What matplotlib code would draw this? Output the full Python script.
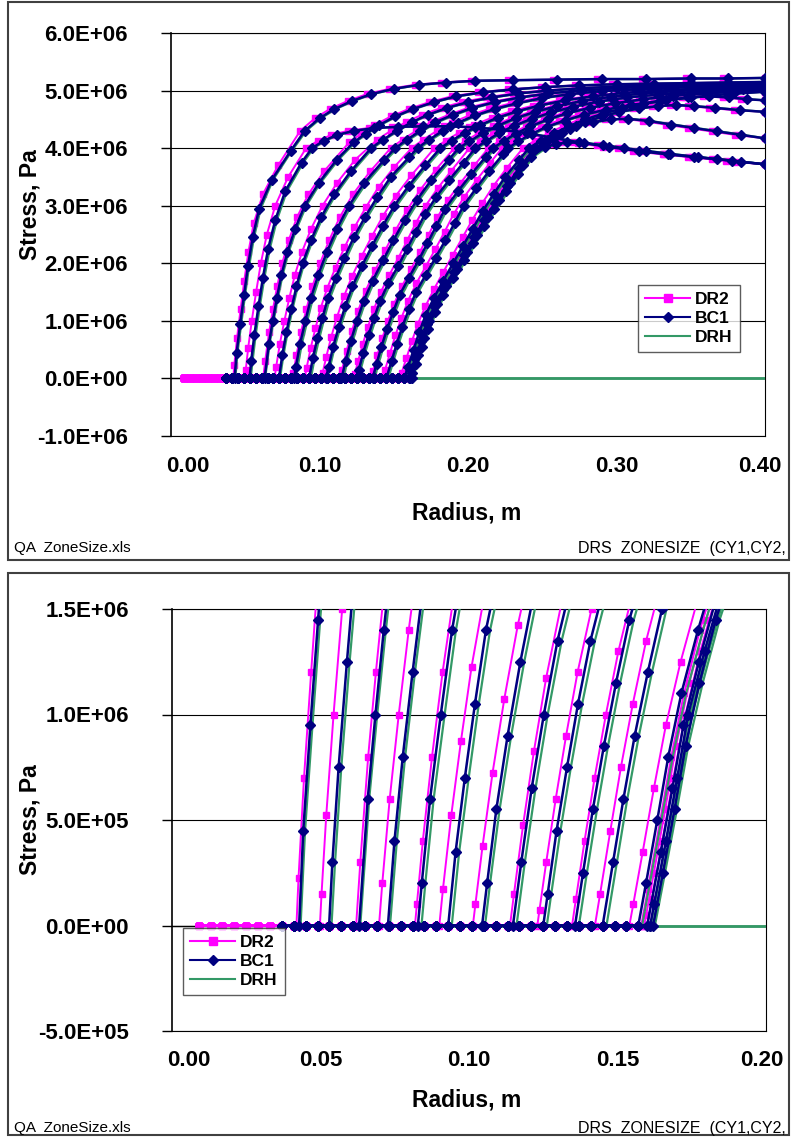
import matplotlib
matplotlib.use('Agg')
import matplotlib.pyplot as plt
from matplotlib.ticker import FuncFormatter, MultipleLocator
from matplotlib.patches import Rectangle
from matplotlib.lines import Line2D
from matplotlib.transforms import blended_transform_factory, offset_copy

plt.rcParams['font.family'] = ['Liberation Sans', 'DejaVu Sans']

W, H = 791, 1137

# zero-stress mesh nodes behind the front
ZERO_R_DR2 = [0.009, 0.013, 0.017, 0.021, 0.025, 0.029, 0.033, 0.037, 0.041, 0.045,
              0.049, 0.053, 0.057, 0.061, 0.065, 0.069, 0.073, 0.077, 0.081, 0.085,
              0.089, 0.093, 0.097, 0.101, 0.105, 0.109, 0.113, 0.117, 0.121, 0.125,
              0.129, 0.133, 0.137, 0.141, 0.145, 0.149, 0.153, 0.157]
ZERO_R_BC1 = [0.037, 0.041, 0.045, 0.049, 0.053, 0.057, 0.061, 0.065, 0.069, 0.073,
              0.077, 0.081, 0.085, 0.089, 0.093, 0.097, 0.101, 0.105, 0.109, 0.113,
              0.117, 0.121, 0.125, 0.129, 0.133, 0.137, 0.141, 0.145, 0.149, 0.153,
              0.157, 0.161]
ZERO_R_DRH = [0.040]
DRH_FLAT_R = [0.040, 0.400]

# stress (MPa) at the BC1 / DRH nodes of each profile, from the front outward
PROFILE_S = [
    [0, 0.45, 0.95, 1.45, 1.95, 2.45, 2.95, 3.45, 3.95, 4.3, 4.52, 4.68, 4.82, 4.94,
     5.03, 5.1, 5.14, 5.17, 5.18, 5.19, 5.2, 5.2, 5.21, 5.21, 5.22],
    [0, 0.3, 0.75, 1.25, 1.75, 2.25, 2.75, 3.25, 3.75, 4.0, 4.13, 4.23, 4.3, 4.35, 4.37,
     4.38, 4.38, 4.36, 4.32, 4.26, 4.18, 4.1, 4.02, 3.95, 3.89, 3.84, 3.78, 3.72],
    [0, 0.6, 1.0, 1.4, 1.8, 2.2, 2.6, 3.0, 3.4, 3.8, 4.1, 4.25, 4.4, 4.55, 4.68, 4.8,
     4.9, 4.97, 5.02, 5.06, 5.09, 5.11, 5.12, 5.13, 5.14, 5.15],
    [0, 0.4, 0.8, 1.2, 1.6, 2.0, 2.4, 2.8, 3.2, 3.6, 4.0, 4.15, 4.3, 4.45, 4.58, 4.7,
     4.8, 4.88, 4.95, 5.0, 5.04, 5.07, 5.09, 5.1, 5.11, 5.12],
    [0, 0.2, 0.6, 1.0, 1.4, 1.8, 2.2, 2.6, 3.0, 3.4, 3.8, 4.0, 4.15, 4.3, 4.45, 4.58,
     4.7, 4.8, 4.88, 4.95, 5.0, 5.04, 5.07, 5.08, 5.09, 5.1],
    [0, 0.35, 0.7, 1.05, 1.4, 1.75, 2.1, 2.45, 2.8, 3.15, 3.5, 3.85, 4.0, 4.15, 4.3,
     4.44, 4.57, 4.68, 4.78, 4.87, 4.94, 4.99, 5.02, 5.05, 5.07, 5.08],
    [0, 0.2, 0.55, 0.9, 1.25, 1.6, 1.95, 2.3, 2.65, 3.0, 3.35, 3.7, 4.0, 4.13, 4.27,
     4.4, 4.53, 4.64, 4.74, 4.83, 4.9, 4.96, 5.0, 5.03, 5.05, 5.06],
    [0, 0.3, 0.65, 1.0, 1.35, 1.7, 2.05, 2.4, 2.75, 3.1, 3.45, 3.8, 4.0, 4.12, 4.26,
     4.39, 4.52, 4.63, 4.73, 4.82, 4.89, 4.95, 4.99, 5.02, 5.03, 5.04],
    [0, 0.15, 0.45, 0.75, 1.05, 1.35, 1.65, 1.95, 2.25, 2.55, 2.85, 3.15, 3.45, 3.75,
     4.0, 4.12, 4.26, 4.39, 4.51, 4.62, 4.72, 4.81, 4.88, 4.93, 4.97, 5.0, 5.02],
    [0, 0.25, 0.55, 0.85, 1.15, 1.45, 1.75, 2.05, 2.35, 2.65, 2.95, 3.25, 3.55, 3.85,
     4.0, 4.12, 4.25, 4.38, 4.5, 4.61, 4.7, 4.78, 4.85, 4.91, 4.95, 4.98, 5.0],
    [0, 0.3, 0.6, 0.9, 1.2, 1.5, 1.8, 2.1, 2.4, 2.7, 3.0, 3.3, 3.6, 3.9, 4.0, 4.12,
     4.25, 4.37, 4.48, 4.58, 4.67, 4.75, 4.82, 4.88, 4.94, 4.98],
    [0, 0.2, 0.5, 0.8, 1.1, 1.4, 1.7, 2.0, 2.3, 2.6, 2.9, 3.2, 3.5, 3.8, 4.0, 4.13,
     4.26, 4.38, 4.5, 4.6, 4.69, 4.77, 4.83, 4.88, 4.9, 4.88, 4.85, 4.83],
    [0, 0.35, 0.65, 0.95, 1.25, 1.55, 1.85, 2.15, 2.45, 2.75, 3.05, 3.35, 3.65, 3.95,
     4.1, 4.22, 4.34, 4.45, 4.55, 4.63, 4.69, 4.73, 4.75, 4.73, 4.7, 4.66, 4.63],
    [0, 0.1, 0.4, 0.7, 1.0, 1.3, 1.6, 1.9, 2.2, 2.5, 2.8, 3.1, 3.4, 3.7, 4.0, 4.14,
     4.27, 4.38, 4.45, 4.5, 4.51, 4.47, 4.41, 4.35, 4.29, 4.23, 4.17],
    [0, 0.25, 0.55, 0.85, 1.15, 1.45, 1.75, 2.05, 2.35, 2.65, 2.95, 3.25, 3.55, 3.85,
     4.02, 4.07, 4.1, 4.09, 4.05, 4.0, 3.95, 3.9, 3.85, 3.81, 3.76, 3.72],
]

# stress (MPa) at the DR2 nodes (its mesh sits between the BC1 nodes)
DR2_S = [
    [0, 0.225, 0.7, 1.2, 1.7, 2.2, 2.7, 3.2, 3.7, 4.3, 4.52, 4.68, 4.82, 4.94,
     5.03, 5.1, 5.14, 5.17, 5.18, 5.19, 5.2, 5.2, 5.21, 5.21, 5.22],
    [0, 0.15, 0.525, 1.0, 1.5, 2.0, 2.5, 3.0, 3.5, 4.0, 4.13, 4.23, 4.3, 4.35, 4.37,
     4.38, 4.38, 4.36, 4.32, 4.26, 4.18, 4.1, 4.02, 3.95, 3.89, 3.84, 3.78, 3.72],
    [0, 0.3, 0.8, 1.2, 1.6, 2.0, 2.4, 2.8, 3.2, 3.6, 4.1, 4.25, 4.4, 4.55, 4.68, 4.8,
     4.9, 4.97, 5.02, 5.06, 5.09, 5.11, 5.12, 5.13, 5.14, 5.15],
    [0, 0.2, 0.6, 1.0, 1.4, 1.8, 2.2, 2.6, 3.0, 3.4, 3.8, 4.15, 4.3, 4.45, 4.58, 4.7,
     4.8, 4.88, 4.95, 5.0, 5.04, 5.07, 5.09, 5.1, 5.11, 5.12],
    [0, 0.1, 0.4, 0.8, 1.2, 1.6, 2.0, 2.4, 2.8, 3.2, 3.6, 4.0, 4.15, 4.3, 4.45, 4.58,
     4.7, 4.8, 4.88, 4.95, 5.0, 5.04, 5.07, 5.08, 5.09, 5.1],
    [0, 0.175, 0.525, 0.875, 1.225, 1.575, 1.925, 2.275, 2.625, 2.975, 3.325, 3.675,
     4.0, 4.15, 4.3, 4.44, 4.57, 4.68, 4.78, 4.87, 4.94, 4.99, 5.02, 5.05, 5.07, 5.08],
    [0, 0.1, 0.375, 0.725, 1.075, 1.425, 1.775, 2.125, 2.475, 2.825, 3.175, 3.525,
     4.0, 4.13, 4.27, 4.4, 4.53, 4.64, 4.74, 4.83, 4.9, 4.96, 5.0, 5.03, 5.05, 5.06],
    [0, 0.15, 0.475, 0.825, 1.175, 1.525, 1.875, 2.225, 2.575, 2.925, 3.275, 3.625,
     4.0, 4.12, 4.26, 4.39, 4.52, 4.63, 4.73, 4.82, 4.89, 4.95, 4.99, 5.02, 5.03, 5.04],
    [0, 0.075, 0.3, 0.6, 0.9, 1.2, 1.5, 1.8, 2.1, 2.4, 2.7, 3.0, 3.3, 3.6,
     4.0, 4.12, 4.26, 4.39, 4.51, 4.62, 4.72, 4.81, 4.88, 4.93, 4.97, 5.0, 5.02],
    [0, 0.125, 0.4, 0.7, 1.0, 1.3, 1.6, 1.9, 2.2, 2.5, 2.8, 3.1, 3.4, 3.7,
     4.0, 4.12, 4.25, 4.38, 4.5, 4.61, 4.7, 4.78, 4.85, 4.91, 4.95, 4.98, 5.0],
    [0, 0.15, 0.45, 0.75, 1.05, 1.35, 1.65, 1.95, 2.25, 2.55, 2.85, 3.15, 3.45, 3.75,
     4.0, 4.12, 4.25, 4.37, 4.48, 4.58, 4.67, 4.75, 4.82, 4.88, 4.94, 4.98],
    [0, 0.1, 0.35, 0.65, 0.95, 1.25, 1.55, 1.85, 2.15, 2.45, 2.75, 3.05, 3.35, 3.65,
     4.0, 4.13, 4.26, 4.38, 4.5, 4.6, 4.69, 4.77, 4.83, 4.88, 4.9, 4.88, 4.85, 4.83],
    [0, 0.175, 0.5, 0.8, 1.1, 1.4, 1.7, 2.0, 2.3, 2.6, 2.9, 3.2, 3.5, 3.8,
     4.1, 4.22, 4.34, 4.45, 4.55, 4.63, 4.69, 4.73, 4.75, 4.73, 4.7, 4.66, 4.63],
    [0, 0.05, 0.25, 0.55, 0.85, 1.15, 1.45, 1.75, 2.05, 2.35, 2.65, 2.95, 3.25, 3.55,
     3.85, 4.14, 4.27, 4.38, 4.45, 4.5, 4.51, 4.47, 4.41, 4.35, 4.29, 4.23, 4.17],
    [0, 0.125, 0.4, 0.7, 1.0, 1.3, 1.6, 1.9, 2.2, 2.5, 2.8, 3.1, 3.4, 3.7,
     4.02, 4.07, 4.1, 4.09, 4.05, 4.0, 3.95, 3.9, 3.85, 3.81, 3.76, 3.72],
]

# radius (m) of those nodes for each code
BC1_R = [
    [0.0428, 0.0442, 0.0466, 0.0492, 0.0518, 0.0550, 0.0594, 0.0679, 0.0805, 0.090, 0.100,
     0.110, 0.122, 0.135, 0.150, 0.167, 0.185, 0.205, 0.230, 0.260, 0.290, 0.320, 0.350,
     0.375, 0.400],
    [0.0529, 0.0540, 0.0561, 0.0589, 0.0619, 0.0654, 0.0702, 0.0769, 0.0879, 0.095, 0.103,
     0.112, 0.123, 0.137, 0.153, 0.170, 0.188, 0.205, 0.222, 0.240, 0.257, 0.275, 0.295,
     0.315, 0.335, 0.355, 0.378, 0.400],
    [0.0630, 0.0659, 0.0685, 0.0713, 0.0744, 0.0784, 0.0836, 0.0900, 0.0996, 0.1116, 0.123,
     0.131, 0.140, 0.151, 0.163, 0.177, 0.192, 0.210, 0.230, 0.252, 0.275, 0.300, 0.325,
     0.350, 0.375, 0.400],
    [0.0727, 0.0749, 0.0777, 0.0810, 0.0845, 0.0887, 0.0943, 0.1011, 0.1099, 0.1211, 0.1347,
     0.143, 0.152, 0.162, 0.173, 0.186, 0.200, 0.216, 0.234, 0.254, 0.276, 0.300, 0.325,
     0.350, 0.375, 0.400],
    [0.0828, 0.0841, 0.0869, 0.0905, 0.0943, 0.0992, 0.1050, 0.1118, 0.1198, 0.1302, 0.1436,
     0.151, 0.159, 0.168, 0.178, 0.190, 0.203, 0.218, 0.235, 0.254, 0.276, 0.300, 0.325,
     0.350, 0.375, 0.400],
    [0.0930, 0.0955, 0.0986, 0.1020, 0.1057, 0.1109, 0.1168, 0.1231, 0.1306, 0.1389, 0.1480,
     0.1606, 0.166, 0.174, 0.183, 0.193, 0.205, 0.218, 0.233, 0.250, 0.269, 0.290, 0.313,
     0.337, 0.362, 0.400],
    [0.1044, 0.1061, 0.1092, 0.1130, 0.1173, 0.1222, 0.1285, 0.1354, 0.1427, 0.1504, 0.1602,
     0.1712, 0.1814, 0.189, 0.198, 0.208, 0.220, 0.233, 0.248, 0.265, 0.284, 0.305, 0.328,
     0.352, 0.376, 0.400],
    [0.1148, 0.1176, 0.1211, 0.1252, 0.1298, 0.1358, 0.1428, 0.1498, 0.1573, 0.1656, 0.1754,
     0.1870, 0.1938, 0.201, 0.210, 0.220, 0.232, 0.245, 0.260, 0.277, 0.296, 0.317, 0.340,
     0.363, 0.385, 0.400],
    [0.1250, 0.1265, 0.1295, 0.1330, 0.1367, 0.1409, 0.1463, 0.1529, 0.1590, 0.1650, 0.1710,
     0.1785, 0.1875, 0.1970, 0.205, 0.212, 0.221, 0.231, 0.243, 0.256, 0.271, 0.288, 0.307,
     0.328, 0.350, 0.375, 0.400],
    [0.1357, 0.1384, 0.1417, 0.1454, 0.1495, 0.1540, 0.1602, 0.1667, 0.1727, 0.1787, 0.1847,
     0.1932, 0.2023, 0.2119, 0.2167, 0.224, 0.232, 0.242, 0.254, 0.267, 0.282, 0.299, 0.318,
     0.338, 0.360, 0.380, 0.400],
    [0.1450, 0.1485, 0.1520, 0.1558, 0.1602, 0.1650, 0.1716, 0.1782, 0.1848, 0.1910, 0.1970,
     0.2054, 0.2142, 0.2238, 0.227, 0.234, 0.243, 0.253, 0.265, 0.278, 0.293, 0.310, 0.329,
     0.350, 0.375, 0.400],
    [0.1570, 0.1596, 0.1634, 0.1671, 0.1715, 0.1771, 0.1834, 0.1900, 0.1966, 0.2032, 0.2098,
     0.2172, 0.2250, 0.2346, 0.241, 0.249, 0.258, 0.268, 0.279, 0.291, 0.304, 0.318, 0.333,
     0.348, 0.362, 0.376, 0.388, 0.400],
    [0.1600, 0.1646, 0.1685, 0.1722, 0.1774, 0.1832, 0.1904, 0.1973, 0.2039, 0.2110, 0.2183,
     0.2261, 0.2345, 0.2435, 0.252, 0.260, 0.269, 0.279, 0.290, 0.302, 0.315, 0.328, 0.340,
     0.352, 0.366, 0.383, 0.400],
    [0.1610, 0.1623, 0.1663, 0.1701, 0.1738, 0.1793, 0.1854, 0.1926, 0.1994, 0.2060, 0.2132,
     0.2206, 0.2284, 0.2370, 0.2460, 0.254, 0.263, 0.273, 0.284, 0.296, 0.308, 0.322, 0.337,
     0.352, 0.368, 0.384, 0.400],
    [0.1620, 0.1653, 0.1692, 0.1729, 0.1776, 0.1831, 0.1900, 0.1971, 0.2037, 0.2106, 0.2178,
     0.2255, 0.2335, 0.2425, 0.252, 0.259, 0.267, 0.278, 0.291, 0.305, 0.320, 0.336, 0.352,
     0.368, 0.384, 0.400],
]
DR2_R = [
    [0.0419, 0.0426, 0.04445, 0.04685, 0.04935, 0.05215, 0.05575, 0.0619, 0.0721, 0.087,
     0.097, 0.107, 0.119, 0.132, 0.147, 0.164, 0.182, 0.202, 0.227, 0.257, 0.287, 0.317,
     0.347, 0.372, 0.400],
    [0.0498, 0.05035, 0.05195, 0.0544, 0.0573, 0.0605, 0.06455, 0.0702, 0.0789, 0.091,
     0.099, 0.108, 0.119, 0.133, 0.149, 0.166, 0.184, 0.201, 0.218, 0.236, 0.253, 0.271,
     0.291, 0.311, 0.331, 0.351, 0.374, 0.400],
    [0.0620, 0.0634, 0.06605, 0.06865, 0.0715, 0.0749, 0.0793, 0.08485, 0.09255, 0.1031,
     0.120, 0.128, 0.137, 0.148, 0.160, 0.174, 0.189, 0.207, 0.227, 0.249, 0.272, 0.297,
     0.322, 0.347, 0.372, 0.400],
    [0.0697, 0.0708, 0.0733, 0.07635, 0.0797, 0.08345, 0.08825, 0.09435, 0.10205, 0.1119,
     0.12405, 0.139, 0.148, 0.158, 0.169, 0.182, 0.196, 0.212, 0.230, 0.250, 0.272, 0.296,
     0.321, 0.346, 0.371, 0.400],
    [0.0818, 0.08245, 0.08445, 0.08755, 0.0911, 0.09525, 0.1004, 0.1065, 0.11365, 0.12255,
     0.1342, 0.148, 0.156, 0.165, 0.175, 0.187, 0.200, 0.215, 0.232, 0.251, 0.273, 0.297,
     0.322, 0.347, 0.372, 0.400],
    [0.0900, 0.09125, 0.09405, 0.0973, 0.10085, 0.1053, 0.1108, 0.1168, 0.12355, 0.1313,
     0.1398, 0.1504, 0.162, 0.170, 0.179, 0.189, 0.201, 0.214, 0.229, 0.246, 0.265, 0.286,
     0.309, 0.333, 0.358, 0.400],
    [0.1013, 0.10215, 0.10455, 0.10795, 0.1119, 0.11645, 0.12195, 0.1284, 0.1354, 0.1428,
     0.15145, 0.16175, 0.1774, 0.185, 0.194, 0.204, 0.216, 0.229, 0.244, 0.261, 0.280,
     0.301, 0.324, 0.348, 0.372, 0.400],
    [0.1138, 0.11515, 0.1182, 0.12185, 0.126, 0.1311, 0.1374, 0.1442, 0.15125, 0.15895,
     0.1678, 0.1783, 0.1908, 0.198, 0.207, 0.217, 0.229, 0.242, 0.257, 0.274, 0.293, 0.314,
     0.337, 0.360, 0.382, 0.400],
    [0.1230, 0.12375, 0.126, 0.1292, 0.1327, 0.13655, 0.14125, 0.1471, 0.15325, 0.1591,
     0.1649, 0.17145, 0.1795, 0.18855, 0.201, 0.208, 0.217, 0.227, 0.239, 0.252, 0.267,
     0.284, 0.303, 0.324, 0.346, 0.371, 0.400],
    [0.1347, 0.136, 0.1389, 0.1423, 0.1461, 0.1503, 0.1555, 0.16165, 0.1677, 0.17355,
     0.1794, 0.18645, 0.19505, 0.20425, 0.2137, 0.221, 0.229, 0.239, 0.251, 0.264, 0.279,
     0.296, 0.315, 0.335, 0.357, 0.377, 0.400],
    [0.1424, 0.14415, 0.1476, 0.15115, 0.15515, 0.15965, 0.1652, 0.17165, 0.1781, 0.1843,
     0.19025, 0.19735, 0.2059, 0.21505, 0.223, 0.230, 0.239, 0.249, 0.261, 0.274, 0.289,
     0.306, 0.325, 0.346, 0.371, 0.400],
    [0.1540, 0.1553, 0.1585, 0.16225, 0.1663, 0.17125, 0.1771, 0.1834, 0.18985, 0.19635,
     0.20285, 0.20975, 0.2173, 0.22595, 0.237, 0.245, 0.254, 0.264, 0.275, 0.287, 0.300,
     0.314, 0.329, 0.344, 0.358, 0.372, 0.384, 0.400],
    [0.1580, 0.16025, 0.1644, 0.1681, 0.1724, 0.17775, 0.1841, 0.19095, 0.19755, 0.2043,
     0.21135, 0.2187, 0.22665, 0.2352, 0.248, 0.256, 0.265, 0.275, 0.286, 0.298, 0.311,
     0.324, 0.336, 0.348, 0.362, 0.379, 0.400],
    [0.1590, 0.15965, 0.16225, 0.16605, 0.1697, 0.17415, 0.1798, 0.1863, 0.1931, 0.1996,
     0.2063, 0.2134, 0.2208, 0.22885, 0.23755, 0.250, 0.259, 0.269, 0.280, 0.292, 0.304,
     0.318, 0.333, 0.348, 0.364, 0.380, 0.400],
    [0.1600, 0.1616, 0.1651, 0.1688, 0.1729, 0.1779, 0.18395, 0.1908, 0.19755, 0.2042,
     0.2111, 0.2184, 0.2261, 0.23435, 0.248, 0.255, 0.263, 0.274, 0.287, 0.301, 0.316,
     0.332, 0.348, 0.364, 0.380, 0.400],
]
DRH_R = [
    [0.0433, 0.0448, 0.0473, 0.0499, 0.0526, 0.0559, 0.0604, 0.0687, 0.0813, 0.091, 0.101,
     0.111, 0.123, 0.136, 0.151, 0.168, 0.186, 0.206, 0.231, 0.261, 0.291, 0.321, 0.351,
     0.376, 0.400],
    [0.0537, 0.0549, 0.0570, 0.0598, 0.0629, 0.0665, 0.0713, 0.0780, 0.0891, 0.096, 0.104,
     0.113, 0.124, 0.138, 0.154, 0.171, 0.189, 0.206, 0.223, 0.241, 0.258, 0.276, 0.296,
     0.316, 0.336, 0.356, 0.379, 0.400],
    [0.0634, 0.0664, 0.0691, 0.0720, 0.0752, 0.0793, 0.0846, 0.0911, 0.1007, 0.1128, 0.124,
     0.132, 0.141, 0.152, 0.164, 0.178, 0.193, 0.211, 0.231, 0.253, 0.276, 0.301, 0.326,
     0.351, 0.376, 0.400],
    [0.0734, 0.0757, 0.0785, 0.0818, 0.0854, 0.0897, 0.0954, 0.1023, 0.1111, 0.1224, 0.1360,
     0.144, 0.153, 0.163, 0.174, 0.187, 0.201, 0.217, 0.235, 0.255, 0.277, 0.301, 0.326,
     0.351, 0.376, 0.400],
    [0.0840, 0.0853, 0.0881, 0.0918, 0.0956, 0.1006, 0.1064, 0.1132, 0.1213, 0.1317, 0.1451,
     0.1525, 0.1605, 0.1695, 0.1795, 0.1915, 0.2045, 0.2195, 0.2365, 0.2555, 0.2775, 0.3015,
     0.3265, 0.3515, 0.3765, 0.400],
    [0.0942, 0.0967, 0.0999, 0.1033, 0.1071, 0.1124, 0.1183, 0.1246, 0.1322, 0.1405, 0.1496,
     0.1622, 0.1676, 0.1756, 0.1846, 0.1946, 0.2066, 0.2196, 0.2346, 0.2516, 0.2706, 0.2916,
     0.3146, 0.3386, 0.3636, 0.400],
    [0.1054, 0.1071, 0.1103, 0.1142, 0.1186, 0.1236, 0.1300, 0.1370, 0.1443, 0.1520, 0.1618,
     0.1728, 0.1830, 0.1906, 0.1996, 0.2096, 0.2216, 0.2346, 0.2496, 0.2666, 0.2856, 0.3066,
     0.3296, 0.3536, 0.3776, 0.400],
    [0.1160, 0.1188, 0.1224, 0.1265, 0.1312, 0.1373, 0.1443, 0.1514, 0.1589, 0.1672, 0.1770,
     0.1886, 0.1954, 0.2026, 0.2116, 0.2216, 0.2336, 0.2466, 0.2616, 0.2786, 0.2976, 0.3186,
     0.3416, 0.3646, 0.3866, 0.400],
    [0.1262, 0.1277, 0.1308, 0.1343, 0.1381, 0.1424, 0.1479, 0.1545, 0.1606, 0.1666, 0.1726,
     0.1801, 0.1891, 0.1986, 0.2066, 0.2136, 0.2226, 0.2326, 0.2446, 0.2576, 0.2726, 0.2896,
     0.3086, 0.3296, 0.3516, 0.3766, 0.400],
    [0.1370, 0.1397, 0.1431, 0.1468, 0.1509, 0.1555, 0.1617, 0.1683, 0.1743, 0.1803, 0.1863,
     0.1948, 0.2039, 0.2135, 0.2183, 0.2256, 0.2336, 0.2436, 0.2556, 0.2686, 0.2836, 0.3006,
     0.3196, 0.3396, 0.3616, 0.3816, 0.400],
    [0.1463, 0.1498, 0.1533, 0.1572, 0.1616, 0.1665, 0.1731, 0.1798, 0.1864, 0.1926, 0.1986,
     0.2070, 0.2158, 0.2254, 0.2286, 0.2356, 0.2446, 0.2546, 0.2666, 0.2796, 0.2946, 0.3116,
     0.3306, 0.3516, 0.3766, 0.400],
    [0.1583, 0.1609, 0.1648, 0.1686, 0.1731, 0.1788, 0.1851, 0.1916, 0.1982, 0.2048, 0.2114,
     0.2188, 0.2266, 0.2362, 0.2426, 0.2506, 0.2596, 0.2696, 0.2806, 0.2926, 0.3056, 0.3196,
     0.3346, 0.3496, 0.3636, 0.3776, 0.3896, 0.400],
    [0.1612, 0.1658, 0.1698, 0.1736, 0.1789, 0.1848, 0.1921, 0.1990, 0.2057, 0.2127, 0.2199,
     0.2277, 0.2361, 0.2451, 0.2536, 0.2616, 0.2706, 0.2806, 0.2916, 0.3036, 0.3166, 0.3296,
     0.3416, 0.3536, 0.3676, 0.3846, 0.400],
    [0.1620, 0.1633, 0.1674, 0.1713, 0.1751, 0.1807, 0.1869, 0.1942, 0.2011, 0.2077, 0.2149,
     0.2223, 0.2301, 0.2386, 0.2476, 0.2556, 0.2646, 0.2746, 0.2856, 0.2976, 0.3096, 0.3236,
     0.3386, 0.3536, 0.3696, 0.3856, 0.400],
    [0.1626, 0.1660, 0.1700, 0.1738, 0.1787, 0.1844, 0.1914, 0.1986, 0.2053, 0.2122, 0.2194,
     0.2271, 0.2351, 0.2441, 0.2536, 0.2606, 0.2686, 0.2796, 0.2926, 0.3066, 0.3216, 0.3376,
     0.3536, 0.3696, 0.3856, 0.400],
]

SERIES = ['DR2', 'BC1', 'DRH']
X_TICKS_TOP = [0.0, 0.1, 0.2, 0.3, 0.4]
X_TICKS_BOT = [0.0, 0.05, 0.10, 0.15, 0.20]


def profile(zero_r, rr, ss):
    n = min(len(rr), len(ss))
    zr = [z for z in zero_r if z < rr[0] - 0.0005]
    r = zr + list(rr[:n])
    s = [0.0] * len(zr) + list(ss[:n])
    return r, [v * 1e6 for v in s]


def fx(x):
    return x / W


def fy(y):
    return 1 - y / H


MAG = '#FF00FF'
NAVY = '#000080'
GREEN = '#339966'
TICK_FS = 16
TITLE_FS = 16.5

fig = plt.figure(figsize=(W / 100, H / 100), dpi=100)
ax1 = fig.add_axes([fx(171), fy(436), fx(765) - fx(171), (436 - 33) / H])
ax2 = fig.add_axes([fx(172), fy(1031), fx(766) - fx(172), (1031 - 609) / H])

for ax in (ax1, ax2):
    for i in range(len(DR2_S)):
        r, s = profile(ZERO_R_DR2, DR2_R[i], DR2_S[i])
        ax.plot(r, s, color=MAG, lw=1.4, marker='s', ms=5, mec=MAG, zorder=3)
    ax.plot(DRH_FLAT_R, [0, 0], color=GREEN, lw=2, zorder=4)
    for i in range(len(PROFILE_S)):
        r, s = profile(ZERO_R_DRH, DRH_R[i], PROFILE_S[i])
        ax.plot(r, s, color=GREEN, lw=1.6, zorder=4)
    for i in range(len(PROFILE_S)):
        r, s = profile(ZERO_R_BC1, BC1_R[i], PROFILE_S[i])
        ax.plot(r, s, color=NAVY, lw=1.8, marker='D', ms=5, mec=NAVY, zorder=5)

    ax.axhline(0, color='black', lw=1, zorder=2)
    ax.grid(axis='y', color='black', lw=0.8, zorder=1)
    ax.set_axisbelow(True)
    for sp in ax.spines.values():
        sp.set_color('black')
        sp.set_linewidth(0.8)
    ax.spines['left'].set_linewidth(1.2)
    ax.yaxis.set_major_formatter(FuncFormatter(lambda v, p: f'{v:.1E}'))
    ax.tick_params(axis='y', direction='out', length=7, width=1, pad=24,
                   labelsize=TICK_FS)
    ax.tick_params(axis='x', length=0, labelbottom=False)

ax1.set_xlim(0, 0.4)
ax1.set_ylim(-1e6, 6e6)
ax1.set_xticks(X_TICKS_TOP)
ax1.yaxis.set_major_locator(MultipleLocator(1e6))
ax2.set_xlim(0, 0.2)
ax2.set_ylim(-5e5, 1.5e6)
ax2.set_xticks(X_TICKS_BOT)
ax2.yaxis.set_major_locator(MultipleLocator(5e5))

for ax, ticks, last_dx in ((ax1, X_TICKS_TOP, -5), (ax2, X_TICKS_BOT, -4)):
    for lab in ax.get_yticklabels():
        lab.set_fontweight('bold')
    base = blended_transform_factory(ax.transData, ax.transAxes)
    for j, v in enumerate(ticks):
        dx = 17 if j == 0 else (last_dx if j == len(ticks) - 1 else 0)
        tr = offset_copy(base, fig=fig, x=dx, y=-30, units='dots')
        ax.text(v, 0, f'{v:.2f}', transform=tr, ha='center', va='center',
                fontsize=TICK_FS, fontweight='bold', clip_on=False)

handles = [Line2D([], [], color=MAG, lw=1.5, marker='s', ms=6, mec=MAG),
           Line2D([], [], color=NAVY, lw=1.5, marker='D', ms=5, mec=NAVY),
           Line2D([], [], color=GREEN, lw=1.5)]
legkw = dict(loc='upper left', bbox_transform=fig.transFigure, frameon=True,
             fancybox=False, borderpad=0.4, labelspacing=0.22, handlelength=2.6,
             handletextpad=0.3, borderaxespad=0,
             prop={'weight': 'bold', 'size': 12.5})
leg1 = ax1.legend(handles, SERIES, bbox_to_anchor=(fx(638), fy(285)), **legkw)
leg2 = ax2.legend(handles, SERIES, bbox_to_anchor=(fx(183), fy(928)), **legkw)
for leg in (leg1, leg2):
    leg.get_frame().set_edgecolor('#333333')
    leg.get_frame().set_linewidth(1.0)
    leg.set_zorder(10)

for ycen in (205, 820):
    fig.text(fx(30), fy(ycen), 'Stress, Pa', rotation=90, ha='center', va='center',
             fontsize=TITLE_FS, fontweight='bold')
for ycen in (513, 1100):
    fig.text(fx(467), fy(ycen), 'Radius, m', ha='center', va='center',
             fontsize=TITLE_FS, fontweight='bold')

for ycen in (548, 1128):
    fig.text(fx(14), fy(ycen), 'QA  ZoneSize.xls', ha='left', va='center', fontsize=11)
    fig.text(fx(786), fy(ycen), 'DRS  ZONESIZE  (CY1,CY2,', ha='right', va='center',
             fontsize=11.5)

for (y0, y1) in ((2, 560), (573, 1135)):
    fig.add_artist(Rectangle((fx(8), fy(y1)), fx(789) - fx(8), (y1 - y0) / H,
                             transform=fig.transFigure, fill=False,
                             ec='#404040', lw=1.5))

fig.savefig('out.png', dpi=100)
